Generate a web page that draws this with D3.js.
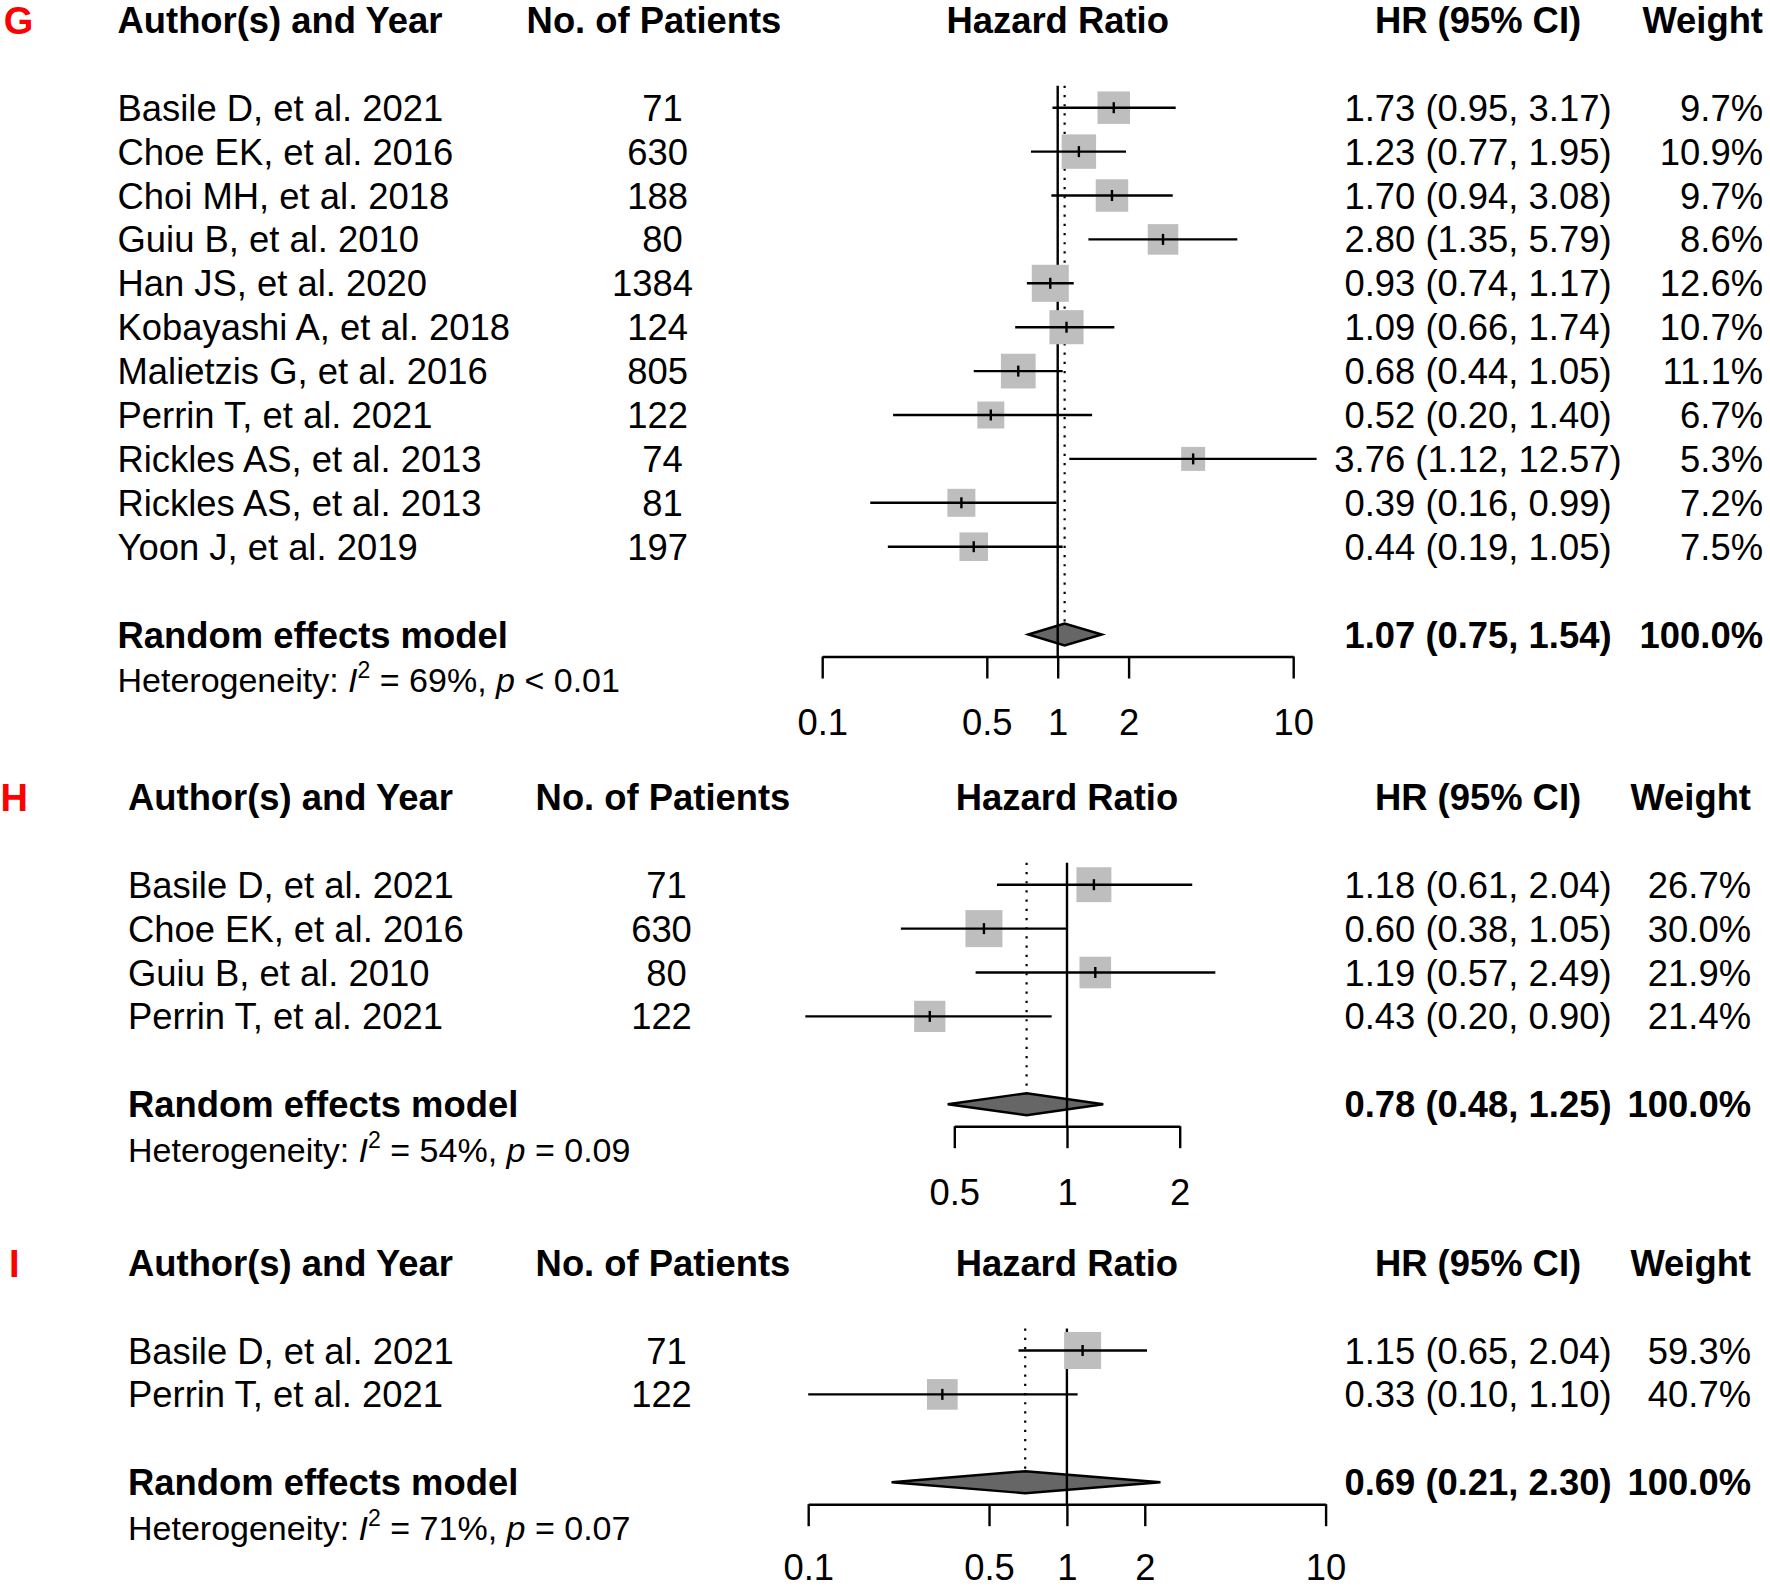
<!DOCTYPE html>
<html><head><meta charset="utf-8">
<script src="https://cdn.jsdelivr.net/npm/d3@7"></script>
<style>body{margin:0;background:#fff} svg text{font-family:"Liberation Sans",Arial,Helvetica,sans-serif;white-space:pre}</style>
</head><body><svg id="c" width="1770" height="1589"></svg>
<script>
// ---------- Panel G data ----------
const studiesG = ["Basile D, et al. 2021","Choe EK, et al. 2016","Choi MH, et al. 2018","Guiu B, et al. 2010","Han JS, et al. 2020","Kobayashi A, et al. 2018","Malietzis G, et al. 2016","Perrin T, et al. 2021","Rickles AS, et al. 2013","Rickles AS, et al. 2013","Yoon J, et al. 2019"];
const patientsG = [71,630,188,80,1384,124,805,122,74,81,197];
const hrG    = [1.73,1.23,1.70,2.80,0.93,1.09,0.68,0.52,3.76,0.39,0.44];
const lowerG = [0.95,0.77,0.94,1.35,0.74,0.66,0.44,0.20,1.12,0.16,0.19];
const upperG = [3.17,1.95,3.08,5.79,1.17,1.74,1.05,1.40,12.57,0.99,1.05];
const weightG = [9.7,10.9,9.7,8.6,12.6,10.7,11.1,6.7,5.3,7.2,7.5];
const ciLabelsG = ["1.73 (0.95, 3.17)","1.23 (0.77, 1.95)","1.70 (0.94, 3.08)","2.80 (1.35, 5.79)","0.93 (0.74, 1.17)","1.09 (0.66, 1.74)","0.68 (0.44, 1.05)","0.52 (0.20, 1.40)","3.76 (1.12, 12.57)","0.39 (0.16, 0.99)","0.44 (0.19, 1.05)"];
const summaryG = [1.07,0.75,1.54];
const summaryLabelG = "1.07 (0.75, 1.54)";
const ticksG = [0.1,0.5,1,2,10];

// ---------- Panel H data ----------
const studiesH = ["Basile D, et al. 2021","Choe EK, et al. 2016","Guiu B, et al. 2010","Perrin T, et al. 2021"];
const patientsH = [71,630,80,122];
const hrH    = [1.18,0.60,1.19,0.43];
const lowerH = [0.65,0.36,0.57,0.20];
const upperH = [2.16,1.00,2.49,0.91];
const weightH = [26.7,30.0,21.9,21.4];
const ciLabelsH = ["1.18 (0.61, 2.04)","0.60 (0.38, 1.05)","1.19 (0.57, 2.49)","0.43 (0.20, 0.90)"];
const summaryH = [0.78,0.48,1.25];
const summaryLabelH = "0.78 (0.48, 1.25)";
const ticksH = [0.5,1,2];

// ---------- Panel I data ----------
const studiesI = ["Basile D, et al. 2021","Perrin T, et al. 2021"];
const patientsI = [71,122];
const hrI    = [1.15,0.33];
const lowerI = [0.65,0.10];
const upperI = [2.04,1.10];
const weightI = [59.3,40.7];
const ciLabelsI = ["1.15 (0.65, 2.04)","0.33 (0.10, 1.10)"];
const summaryI = [0.69,0.21,2.30];
const summaryLabelI = "0.69 (0.21, 2.30)";
const ticksI = [0.1,0.5,1,2,10];

const panelLetters = ["G","H","I"];
const hetI2 = ["69%","54%","71%"];
const hetP = ["< 0.01","= 0.09","= 0.07"];
const headers = ["Author(s) and Year","No. of Patients","Hazard Ratio","HR (95% CI)","Weight"];
const summaryName = "Random effects model";

// ---------- drawing ----------
const svg = d3.select("#c");
svg.append("rect").attr("width",1770).attr("height",1589).attr("fill","#fff");
const FS = 36.4, FSH = 34, ROW = 43.9, BASE = 13, SQMAX = 37, LW = 2.4;

function panel(cfg){
  const g = svg.append("g");
  const x = d3.scaleLog().domain(cfg.domain).range(cfg.range);
  const n = cfg.studies.length;
  const rowY = i => cfg.firstRow + i*ROW;
  const headerY = rowY(-2);
  const sumY = rowY(n+1);
  const hetY = sumY + ROW;
  const axisY = sumY + 22;
  const topY = rowY(0) - ROW/2;
  const wmax = d3.max(cfg.weights);
  const nLen = d3.max(cfg.patients, d => String(d).length);

  // letter
  g.append("text").attr("x",cfg.letterX).attr("y",headerY+BASE+1)
    .attr("fill","#ff0000").attr("font-weight","bold").attr("font-size",38).text(cfg.letter);
  // headers
  const hdr = g.append("g").attr("font-weight","bold").attr("font-size",FS);
  hdr.append("text").attr("x",cfg.authorX).attr("y",headerY+BASE).text(headers[0]);
  hdr.append("text").attr("x",cfg.nHeadC).attr("y",headerY+BASE).attr("text-anchor","middle").text(headers[1]);
  hdr.append("text").attr("x",(cfg.range[0]+cfg.range[1])/2).attr("y",headerY+BASE).attr("text-anchor","middle").text(headers[2]);
  hdr.append("text").attr("x",cfg.ciC).attr("y",headerY+BASE).attr("text-anchor","middle").text(headers[3]);
  hdr.append("text").attr("x",cfg.wR).attr("y",headerY+BASE).attr("text-anchor","end").text(headers[4]);

  // study text rows
  const rows = g.append("g").attr("font-size",FS);
  cfg.studies.forEach((s,i)=>{
    const yb = rowY(i)+BASE;
    rows.append("text").attr("x",cfg.authorX).attr("y",yb).text(s);
    rows.append("text").attr("x",cfg.nC).attr("y",yb).attr("text-anchor","middle")
      .text(String(cfg.patients[i]).padStart(nLen," "));
    rows.append("text").attr("x",cfg.ciC).attr("y",yb).attr("text-anchor","middle").text(cfg.ciLabels[i]);
    rows.append("text").attr("x",cfg.wR).attr("y",yb).attr("text-anchor","end").text(cfg.weights[i].toFixed(1)+"%");
  });
  // summary text
  const sm = g.append("g").attr("font-size",FS).attr("font-weight","bold");
  sm.append("text").attr("x",cfg.authorX).attr("y",sumY+BASE).text(summaryName);
  sm.append("text").attr("x",cfg.ciC).attr("y",sumY+BASE).attr("text-anchor","middle").text(cfg.summaryLabel);
  sm.append("text").attr("x",cfg.wR).attr("y",sumY+BASE).attr("text-anchor","end").text("100.0%");
  // heterogeneity
  const ht = g.append("text").attr("x",cfg.authorX).attr("y",hetY+BASE+1).attr("font-size",FSH);
  ht.append("tspan").text("Heterogeneity: ");
  ht.append("tspan").attr("font-style","italic").text("I");
  ht.append("tspan").attr("font-size",23).attr("dy",-14).text("2");
  ht.append("tspan").attr("dy",14).text(" = " + cfg.hetI2 + ", ");
  ht.append("tspan").attr("font-style","italic").text("p");
  ht.append("tspan").text(" " + cfg.hetP);

  // dotted summary line
  g.append("line").attr("x1",x(cfg.summary[0])).attr("x2",x(cfg.summary[0]))
    .attr("y1",topY).attr("y2",sumY-11).attr("stroke","#000").attr("stroke-width",2.2)
    .attr("stroke-dasharray","2.2,7");
  // diamond
  const s = cfg.summary;
  g.append("path").attr("d",`M${x(s[1])},${sumY}L${x(s[0])},${sumY-11}L${x(s[2])},${sumY}L${x(s[0])},${sumY+11}Z`)
    .attr("fill","#666").attr("stroke","#000").attr("stroke-width",LW);
  // reference line at 1
  g.append("line").attr("x1",x(1)).attr("x2",x(1)).attr("y1",topY).attr("y2",axisY)
    .attr("stroke","#000").attr("stroke-width",LW);
  // squares
  cfg.studies.forEach((st,i)=>{
    const sz = SQMAX*Math.sqrt(cfg.weights[i]/wmax);
    const cx = x(cfg.hr[i]), cy = rowY(i);
    g.append("rect").attr("x",cx-sz/2).attr("y",cy-sz/2).attr("width",sz).attr("height",sz).attr("fill","#bebebe");
  });
  // CI lines + point ticks
  cfg.studies.forEach((st,i)=>{
    const cy = rowY(i);
    g.append("line").attr("x1",x(cfg.lower[i])).attr("x2",x(cfg.upper[i])).attr("y1",cy).attr("y2",cy)
      .attr("stroke","#000").attr("stroke-width",LW);
    g.append("line").attr("x1",x(cfg.hr[i])).attr("x2",x(cfg.hr[i])).attr("y1",cy-5.5).attr("y2",cy+5.5)
      .attr("stroke","#000").attr("stroke-width",LW);
  });
  // axis
  const ax = g.append("g").attr("transform",`translate(0,${axisY})`)
    .call(d3.axisBottom(x).tickValues(cfg.ticks).tickSize(22).tickSizeOuter(0).tickPadding(cfg.pad)
      .tickFormat(d=>String(d)));
  ax.attr("font-size",FS).attr("font-family",'"Liberation Sans",Arial,sans-serif');
  ax.selectAll("path,line").attr("stroke","#000").attr("stroke-width",LW);
  ax.selectAll("text").attr("fill","#000");
}

panel({letter:panelLetters[0], letterX:3.7, firstRow:107.7, domain:[0.1,10], range:[822.2,1293.2], pad:31,
  studies:studiesG, patients:patientsG, hr:hrG, lower:lowerG, upper:upperG, weights:weightG,
  ciLabels:ciLabelsG, summary:summaryG, summaryLabel:summaryLabelG, ticks:ticksG,
  hetI2:hetI2[0], hetP:hetP[0], authorX:117.5, nHeadC:654, nC:652.5, ciC:1478, wR:1763});
panel({letter:panelLetters[1], letterX:0.6, firstRow:884.7, domain:[0.5,2], range:[954.3,1179.7], pad:31,
  studies:studiesH, patients:patientsH, hr:hrH, lower:lowerH, upper:upperH, weights:weightH,
  ciLabels:ciLabelsH, summary:summaryH, summaryLabel:summaryLabelH, ticks:ticksH,
  hetI2:hetI2[1], hetP:hetP[1], authorX:128, nHeadC:663, nC:661.5, ciC:1478, wR:1751});
panel({letter:panelLetters[2], letterX:9, firstRow:1350.5, domain:[0.1,10], range:[808.2,1325.6], pad:28,
  studies:studiesI, patients:patientsI, hr:hrI, lower:lowerI, upper:upperI, weights:weightI,
  ciLabels:ciLabelsI, summary:summaryI, summaryLabel:summaryLabelI, ticks:ticksI,
  hetI2:hetI2[2], hetP:hetP[2], authorX:128, nHeadC:663, nC:661.5, ciC:1478, wR:1751});
</script></body></html>
